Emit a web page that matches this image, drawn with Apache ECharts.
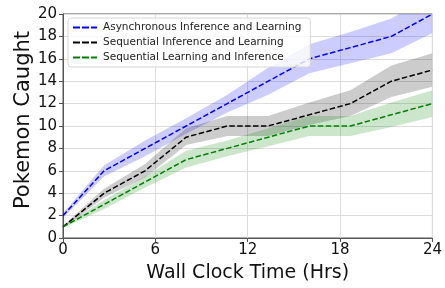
<!DOCTYPE html>
<html>
<head>
<meta charset="utf-8">
<script src="https://cdn.jsdelivr.net/npm/echarts@6/dist/echarts.min.js"></script>
<style>
  html, body { margin: 0; padding: 0; background: #fff; }
  #main { width: 445px; height: 288px; }
</style>
</head>
<body>
<div id="main"></div>
<script>
// wall clock hours where each run was sampled
var hours = [0, 2.67, 5.33, 8, 10.67, 13.33, 16, 18.67, 21.33, 24];

var asyncMean = [2, 6, 8, 10, 12, 14, 16, 17, 18, 20];
var asyncLow  = [1.8, 5.5, 7.3, 9.3, 11.2, 12.8, 14.7, 15.6, 16.5, 18.3];
var asyncHigh = [2.2, 6.5, 8.7, 10.7, 12.8, 15.2, 17.3, 18.4, 19.6, 21.7];

var seqMean = [1, 4, 6, 9, 10, 10, 11, 12, 14, 15];
var seqLow  = [0.9, 3.6, 5.4, 8.3, 9.1, 9.1, 10.1, 10.9, 12.6, 13.5];
var seqHigh = [1.1, 4.4, 6.6, 9.8, 10.9, 10.9, 12.1, 13.2, 15.4, 16.5];

var slMean = [1, 3, 5, 7, 8, 9, 10, 10, 11, 12];
var slLow  = [0.9, 2.6, 4.5, 6.3, 7.3, 8.2, 9.1, 9.1, 9.9, 10.8];
var slHigh = [1.1, 3.4, 5.5, 7.8, 8.7, 9.8, 10.9, 10.9, 12.1, 13.2];

var xTicks = [0, 6, 12, 18, 24];

var names = [
  'Asynchronous Inference and Learning',
  'Sequential Inference and Learning',
  'Sequential Learning and Inference'
];

function pairs(ys) {
  return hours.map(function (h, i) { return [h, ys[i]]; });
}

// shaded band drawn as one polygon through the axis scales
function band(id, lo, hi, fill) {
  return {
    type: 'custom', name: id, silent: true, z: 1,
    data: [[0, 0]],
    encode: { x: 0, y: 1 },
    renderItem: function (params, api) {
      var pts = [];
      for (var i = 0; i < hours.length; i++) pts.push(api.coord([hours[i], hi[i]]));
      for (var j = hours.length - 1; j >= 0; j--) pts.push(api.coord([hours[j], lo[j]]));
      var cs = params.coordSys;
      return {
        type: 'polygon',
        shape: { points: pts },
        style: { fill: fill, stroke: null },
        clipPath: { type: 'rect', shape: { x: cs.x, y: cs.y, width: cs.width, height: cs.height } }
      };
    }
  };
}

function meanLine(name, ys, color) {
  return {
    type: 'line', name: name, data: pairs(ys), symbol: 'none', z: 3,
    color: color,
    lineStyle: { color: color, width: 1.5, type: [5.5, 2.4] }
  };
}

var dashIcon = 'path://M0,0h7v2h-7z M9,0h7v2h-7z M18,0h6v2h-6z';

var chartDom = document.getElementById('main');
var myChart = echarts.init(chartDom, null, { renderer: 'canvas' });
var font = 'DejaVu Sans';

var option = {
  animation: false,
  textStyle: { fontFamily: font },
  grid: {
    left: 63, right: 12, top: 14, bottom: 46,
    show: true, borderColor: '#555', borderWidth: 1, backgroundColor: 'transparent'
  },
  legend: {
    orient: 'vertical',
    left: 68, top: 18,
    padding: [3, 9, 3, 5],
    itemGap: 2,
    itemWidth: 24, itemHeight: 2,
    itemStyle: { borderWidth: 0 },
    backgroundColor: 'rgba(255,255,255,0.8)',
    borderColor: '#d6d6d6', borderWidth: 1, borderRadius: 3,
    textStyle: { fontFamily: font, fontSize: 10.5, color: '#222', lineHeight: 13, padding: [0, 0, 0, 1] },
    data: [
      { name: names[0], icon: dashIcon, itemStyle: { color: '#0000ff' } },
      { name: names[1], icon: dashIcon, itemStyle: { color: '#000000' } },
      { name: names[2], icon: dashIcon, itemStyle: { color: '#008000' } }
    ]
  },
  xAxis: {
    type: 'value', min: 0, max: 24, interval: 6,
    name: 'Wall Clock Time (Hrs)', nameLocation: 'middle', nameGap: 26,
    nameTextStyle: { fontFamily: font, fontSize: 19, color: '#111' },
    axisLine: { show: true, lineStyle: { color: '#555', width: 1 } },
    axisTick: { show: true, length: 4, lineStyle: { color: '#555' } },
    axisLabel: {
      fontFamily: font, fontSize: 15, color: '#111', margin: 5,
      formatter: function (v) { return xTicks.indexOf(v) >= 0 ? String(v) : ''; }
    },
    splitLine: { show: true, lineStyle: { color: '#dcdcdc', width: 1 } }
  },
  yAxis: {
    type: 'value', min: 0, max: 20, interval: 2,
    name: 'Pokemon Caught', nameLocation: 'middle', nameGap: 29, nameRotate: 90,
    nameMoveOverlap: false,
    nameTextStyle: { fontFamily: font, fontSize: 21, color: '#111', padding: [0, 0, 0, 12] },
    axisLine: { show: true, lineStyle: { color: '#555', width: 1 } },
    axisTick: { show: true, length: 4, lineStyle: { color: '#555' } },
    axisLabel: { fontFamily: font, fontSize: 15, color: '#111', margin: 6 },
    splitLine: { show: true, lineStyle: { color: '#dcdcdc', width: 1 } }
  },
  series: [
    band('async', asyncLow, asyncHigh, 'rgba(0,0,255,0.2)'),
    band('seq', seqLow, seqHigh, 'rgba(0,0,0,0.2)'),
    band('sl', slLow, slHigh, 'rgba(0,128,0,0.2)'),
    meanLine(names[0], asyncMean, '#0000ff'),
    meanLine(names[1], seqMean, '#000000'),
    meanLine(names[2], slMean, '#008000')
  ]
};

option && myChart.setOption(option);
</script>
</body>
</html>
